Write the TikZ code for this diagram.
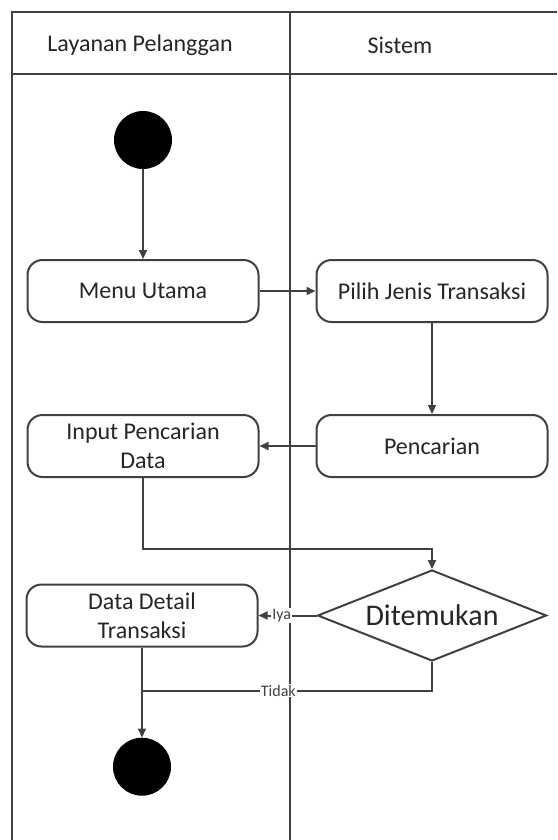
\documentclass[tikz,border=0pt]{standalone}
\usepackage{fontspec}
\setmainfont{Carlito}
\usetikzlibrary{arrows.meta, shapes.geometric, positioning}

\begin{document}
\begin{tikzpicture}[x=1pt, y=-1pt,
        ln/.style={draw=black!75, line width=2pt},
        hd/.style={text=black!85, font=\fontsize{24}{28}\selectfont},
        act/.style={ln, rounded corners=15pt, minimum width=231pt, minimum height=62pt, fill=white,
            text=black!85, align=center, font=\fontsize{24}{29}\selectfont},
        dot/.style={circle, fill=black, minimum size=58pt, inner sep=0},
        dec/.style={ln, diamond, aspect=2.5, minimum width=229pt, minimum height=91pt, inner sep=0,
            fill=white, text=black!85, font=\fontsize{30}{34}\selectfont},
        e/.style={ln, -{Triangle[length=9pt, width=8pt]}},
        lbl/.style={fill=white, inner sep=1pt, text=black!75, font=\fontsize{16}{18}\selectfont}]
        \useasboundingbox (0,0) rectangle (557,840);

        % lanes
        \draw[ln] (12,840) -- (12,12) -- (557,12);
        \draw[ln] (12,74) -- (557,74);
        \draw[ln] (290,12) -- (290,840);
        \draw node[hd] (h1) at (140,45) {Layanan Pelanggan} node[hd] (h2) at (400,45) {Sistem};

        % activities
        \draw node[dot] (st) at (143,140) {};
        \draw node[act] (menu) at (143,291) {Menu Utama}
              node[act, right=56pt of menu] (pilih) {Pilih Jenis Transaksi};
        \draw node[act, below=91pt of pilih] (cari) {Pencarian}
              node[act, left=56pt of cari] (input) {Input Pencarian\\Data};
        \draw node[dec, below=91pt of cari] (temu) {Ditemukan}
              node[act, left=58pt of temu] (detail) {Data Detail\\Transaksi};
        \draw node[dot, below=90pt of detail] (akhir) {};
        \path (detail.south) ++(0,43) coordinate (gab);

        % flows
        \draw[e] (st) -- (menu);
        \draw[e] (menu) -- (pilih);
        \draw[e] (pilih) -- (cari);
        \draw[e] (cari) -- (input);
        \draw[e] (input.south) -- ++(0,71) -| (temu.north);
        \draw[e] (temu.west) -- node[lbl, pos=0.6] {Iya} (detail.east);
        \draw[ln] (temu.south) |- node[lbl, pos=0.765] {Tidak} (gab);
        \draw[e] (detail) -- (akhir);
      \end{tikzpicture}
\end{document}
